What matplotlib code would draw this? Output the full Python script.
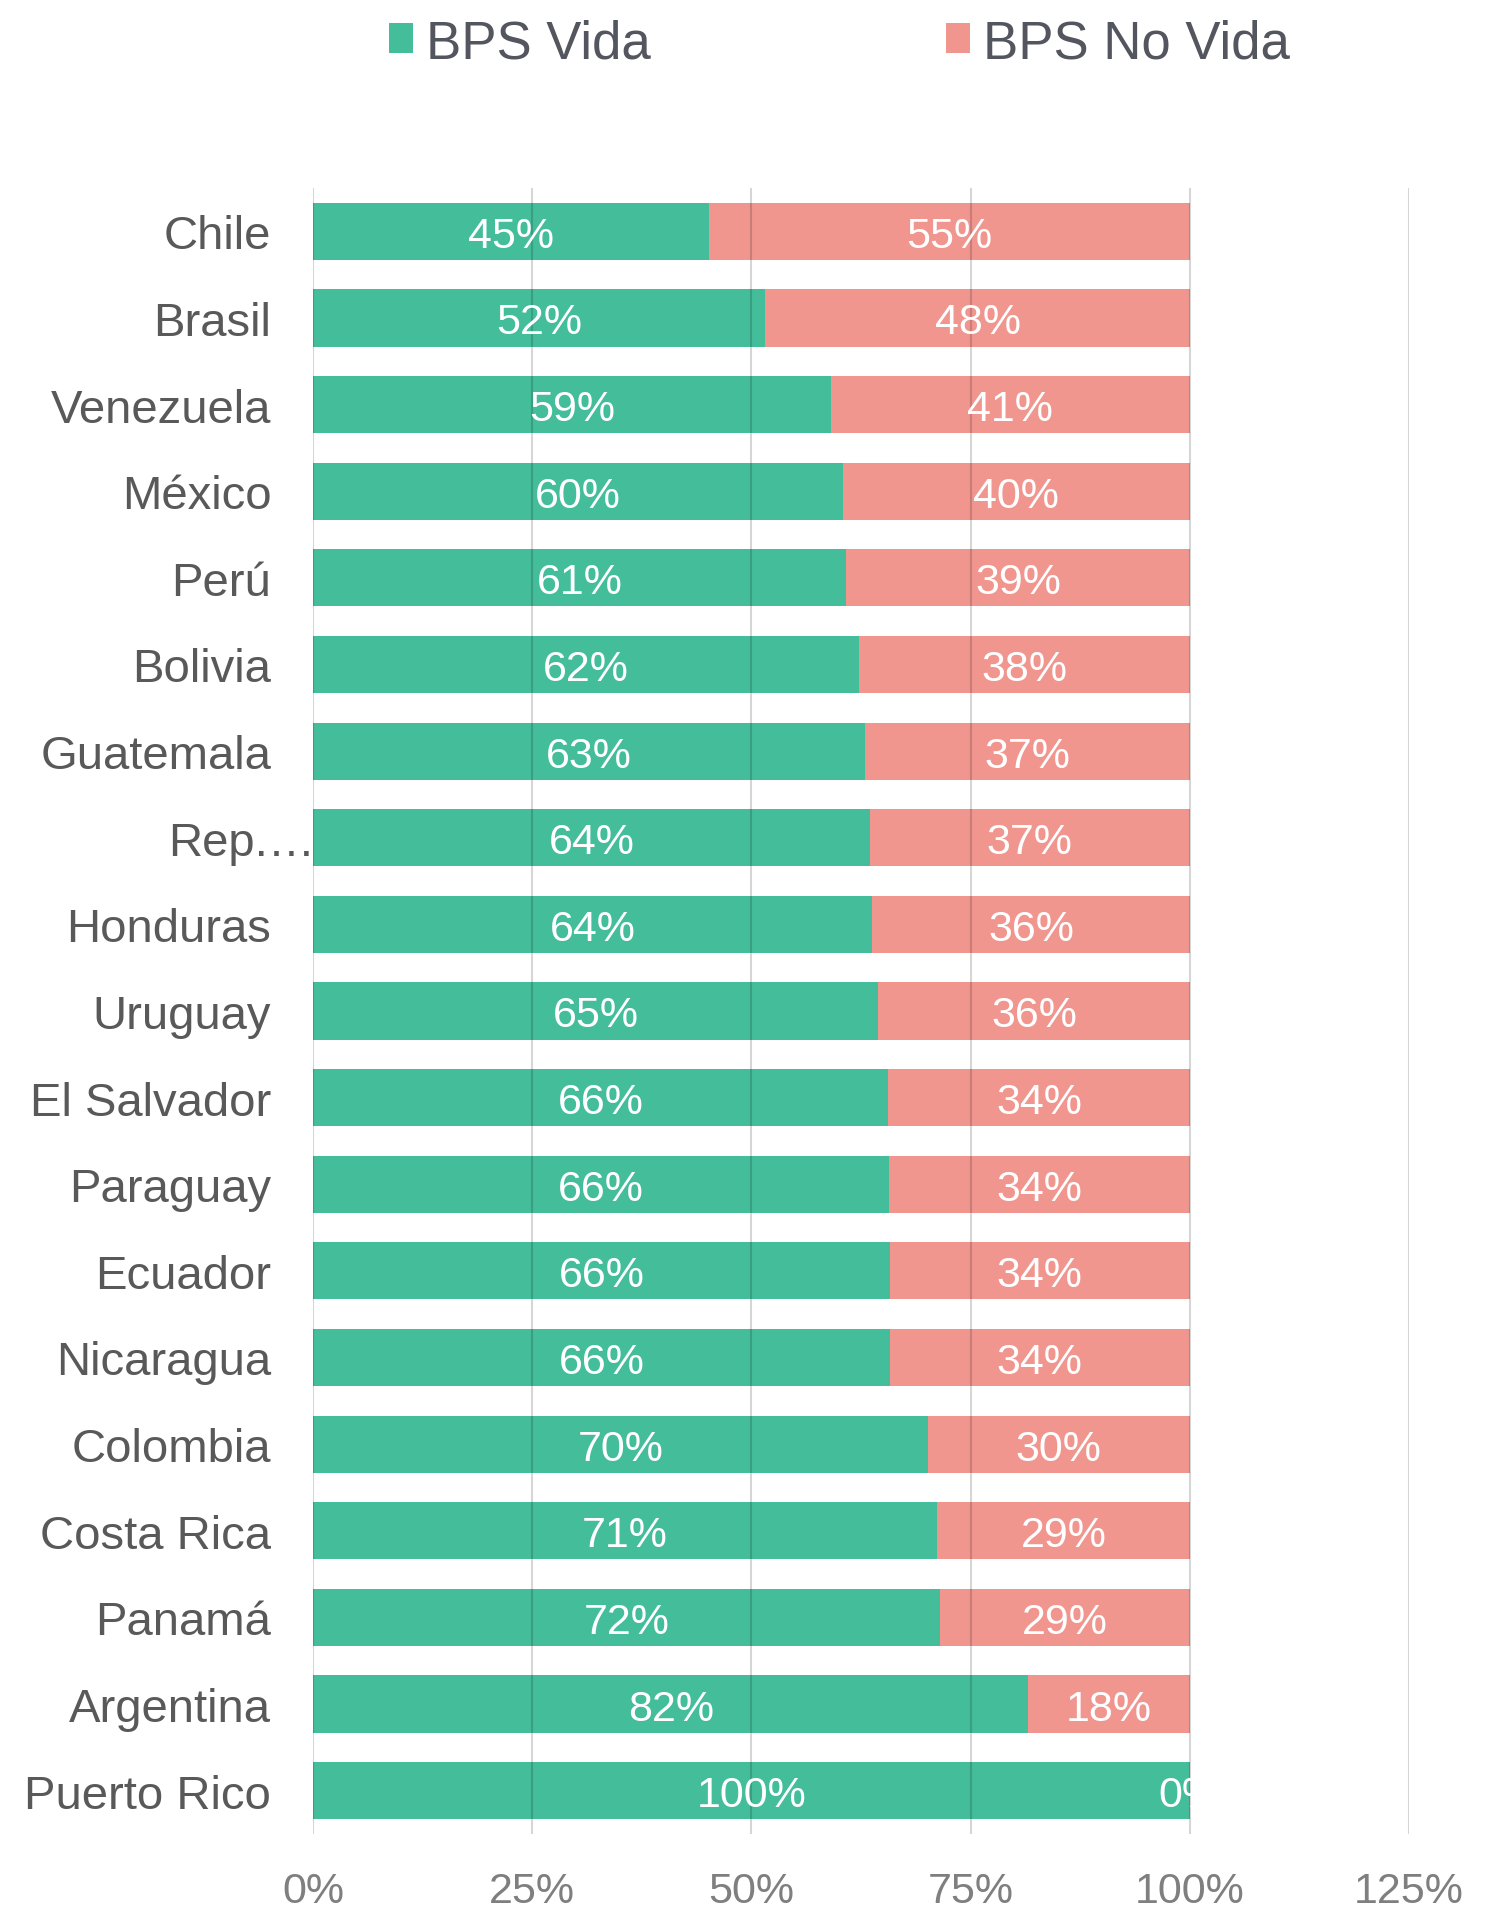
import matplotlib
matplotlib.use('Agg')
import matplotlib.pyplot as plt
from matplotlib.patches import Rectangle
from matplotlib.transforms import ScaledTranslation

plt.rcParams['font.family'] = ['Liberation Sans', 'DejaVu Sans']

# Data (percent of total)
paises = ['Chile', 'Brasil', 'Venezuela', 'México', 'Perú', 'Bolivia', 'Guatemala',
          'Rep.…', 'Honduras', 'Uruguay', 'El Salvador', 'Paraguay', 'Ecuador',
          'Nicaragua', 'Colombia', 'Costa Rica', 'Panamá', 'Argentina', 'Puerto Rico']
bps_vida = [45.2, 51.6, 59.1, 60.4, 60.8, 62.3, 63.0, 63.5, 63.8, 64.5, 65.6, 65.7,
            65.8, 65.8, 70.1, 71.2, 71.5, 81.6, 100.0]
bps_no_vida = [54.8, 48.4, 40.9, 39.6, 39.2, 37.7, 37.0, 36.5, 36.2, 35.5, 34.4, 34.3,
               34.2, 34.2, 29.9, 28.8, 28.5, 18.4, 0.0]
x_ticks = [0, 25, 50, 75, 100, 125]

GREEN = '#44BD9B'
PINK = '#F0968F'


def pct(v):
    return '%d%%' % int(v + 0.5)


fig = plt.figure(figsize=(14.86, 19.15), dpi=100)
ax = fig.add_axes([0.2106, 0.0418, 0.7375, 0.8595])

y = list(range(len(paises)))
b1 = ax.barh(y, bps_vida, height=0.66, color=GREEN, label='BPS Vida', zorder=2)
b2 = ax.barh(y, bps_no_vida, left=bps_vida, height=0.66, color=PINK,
             label='BPS No Vida', zorder=2)

# labels clipped at the 100% line
clip = Rectangle((0, -0.5), 100, len(paises), transform=ax.transData)
for i in y:
    ax.text(bps_vida[i] / 2, i, pct(bps_vida[i]), ha='center', va='center_baseline',
            color='white', fontsize=31, zorder=4)
    t2 = ax.text(bps_vida[i] + bps_no_vida[i] / 2, i, pct(bps_no_vida[i]),
                 ha='center', va='center_baseline', color='white', fontsize=31, zorder=4)
    t2.set_clip_path(clip)

ax.set_xlim(0, 125)
ax.set_ylim(len(paises) - 0.5, -0.5)
ax.set_xticks(x_ticks)
ax.set_xticklabels([f'{t}%' for t in x_ticks])
ax.set_yticks(y)
ax.set_yticklabels(paises)

ax.grid(axis='x', color='black', alpha=0.16, linewidth=1.5, zorder=3)
ax.set_axisbelow(False)
for s in ax.spines.values():
    s.set_visible(False)

ax.tick_params(axis='x', length=0, pad=27, labelsize=31, labelcolor='#7F7F7F')
ax.tick_params(axis='y', length=0, pad=30, labelsize=34, labelcolor='#595959')

# the truncated label sticks out to the right like in the original
rep = ax.get_yticklabels()[7]
rep.set_transform(rep.get_transform() + ScaledTranslation(0.44, 0, fig.dpi_scale_trans))

fig.legend(handles=[b1, b2], loc='center', bbox_to_anchor=(0.565, 0.977), ncol=2,
           frameon=False, fontsize=38, labelcolor='#53565E', handlelength=0.45,
           handleheight=0.5, handletextpad=0.25, columnspacing=5.6)

fig.savefig('out.png', dpi=100)
